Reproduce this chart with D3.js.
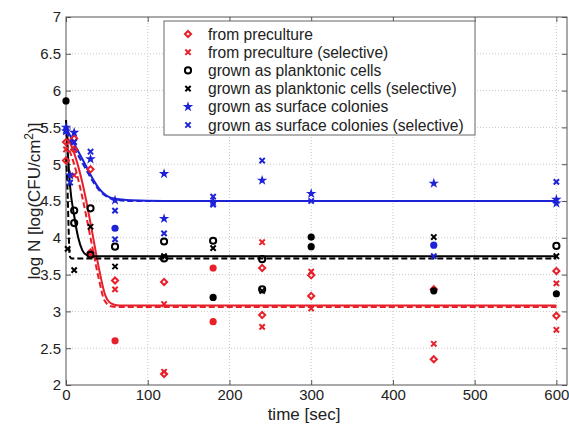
<!DOCTYPE html>
<html>
<head>
<meta charset="utf-8">
<script src="https://cdn.jsdelivr.net/npm/d3@7"></script>
<style>
  body { margin: 0; background: #fff; }
  text { font-family: "Liberation Sans", Arial, Helvetica, sans-serif; }
</style>
</head>
<body>
<div id="chart"></div>
<script>
// tick labels
const xTicks = [0, 100, 200, 300, 400, 500, 600];
const yTicks = [2, 2.5, 3, 3.5, 4, 4.5, 5, 5.5, 6, 6.5, 7];

const legendLabels = [
  "from preculture",
  "from preculture (selective)",
  "grown as planktonic cells",
  "grown as planktonic cells (selective)",
  "grown as surface colonies",
  "grown as surface colonies (selective)"
];

// measured points [time, logN]
const preculture = [[0, 5.3], [0, 5.05], [10, 5.35], [10, 5.2], [30, 4.93], [30, 3.8], [60, 3.42],
  [120, 3.4], [120, 2.15], [240, 3.59], [240, 2.95], [300, 3.49], [300, 3.21], [450, 3.3], [450, 2.35],
  [600, 3.55], [600, 2.94]];
const precultureRep = [[60, 2.6], [180, 3.59], [180, 2.86]];
const precultureSel = [[0, 5.2], [10, 4.85], [30, 3.78], [60, 3.3], [120, 3.1], [120, 2.18], [240, 3.94],
  [240, 2.79], [300, 3.54], [300, 3.04], [450, 2.56], [600, 3.38], [600, 2.75]];

const planktonic = [[10, 4.37], [10, 4.2], [30, 4.4], [30, 3.77], [60, 3.88], [120, 3.95], [120, 3.72],
  [180, 3.96], [240, 3.71], [240, 3.3], [600, 3.89]];
const planktonicRep = [[0, 5.86], [180, 3.19], [300, 4.01], [300, 3.88], [450, 3.28], [600, 3.24]];
const planktonicSel = [[2, 3.85], [10, 3.56], [30, 4.15], [60, 3.61], [120, 3.75], [180, 3.86],
  [240, 3.28], [450, 4.01], [600, 3.75]];

const surface = [[0, 5.5], [0, 5.45], [10, 5.43], [5, 4.85], [30, 5.07], [60, 4.51], [120, 4.87],
  [120, 4.26], [180, 4.49], [240, 4.78], [300, 4.6], [450, 4.74], [600, 4.52], [600, 4.47]];
const surfaceRep = [[60, 4.13], [450, 3.9]];
const surfaceSel = [[0, 5.45], [5, 4.75], [10, 5.3], [30, 5.17], [60, 4.37], [60, 3.98], [120, 4.06],
  [180, 4.56], [180, 4.45], [240, 5.05], [300, 4.5], [450, 3.75], [600, 4.76]];

// fitted curves [time, logN]
const precultureFit = [[0, 5.4], [10, 5.15], [20, 4.75], [30, 4.2], [40, 3.6], [48, 3.22], [55, 3.11],
  [65, 3.08], [100, 3.08], [600, 3.08]];
const precultureSelFit = [[0, 5.3], [10, 5.0], [20, 4.55], [30, 4.0], [40, 3.45], [47, 3.15], [55, 3.07],
  [65, 3.06], [100, 3.06], [600, 3.06]];
const planktonicFit = [[0, 5.6], [2, 5.2], [5, 4.7], [10, 4.3], [15, 4.0], [20, 3.83], [25, 3.77],
  [35, 3.75], [100, 3.75], [600, 3.75]];
const planktonicSelFit = [[0, 5.1], [1, 4.9], [2, 4.6], [3, 4.2], [4, 3.85], [5, 3.74], [7, 3.72],
  [100, 3.72], [600, 3.72]];
const surfaceFit = [[0, 5.5], [10, 5.28], [20, 5.07], [27, 4.92], [35, 4.76], [41, 4.66], [50, 4.57],
  [60, 4.53], [80, 4.51], [120, 4.5], [600, 4.5]];
const surfaceSelFit = [[0, 5.45], [10, 5.22], [20, 5.02], [27, 4.88], [35, 4.73], [41, 4.64], [50, 4.56],
  [60, 4.52], [80, 4.5], [120, 4.5], [600, 4.5]];

const W = 569, H = 425;
const margin = { top: 17, right: 2, bottom: 40, left: 66 };
const width = W - margin.left - margin.right;
const height = H - margin.top - margin.bottom;

const svg = d3.select("#chart").append("svg")
  .attr("width", W)
  .attr("height", H);

const g = svg.append("g")
  .attr("transform", `translate(${margin.left},${margin.top})`);

const x = d3.scaleLinear().domain([0, 613]).range([0, width]);
const y = d3.scaleLinear().domain([2, 7]).range([height, 0]);

// grid
g.append("g").selectAll("line").data(xTicks.slice(1)).enter().append("line")
  .attr("x1", d => x(d)).attr("x2", d => x(d))
  .attr("y1", 0).attr("y2", height)
  .attr("stroke", "#c8c8c8").attr("stroke-dasharray", "1,2");
g.append("g").selectAll("line").data(yTicks.slice(1, -1)).enter().append("line")
  .attr("x1", 0).attr("x2", width)
  .attr("y1", d => y(d)).attr("y2", d => y(d))
  .attr("stroke", "#c8c8c8").attr("stroke-dasharray", "1,2");

// axes, ticks inward on all four sides
const axisStyle = sel => {
  sel.select(".domain").remove();
  sel.selectAll("line").attr("stroke", "#555");
  sel.selectAll("text").attr("font-size", 15).attr("fill", "#222");
};
g.append("g").attr("transform", `translate(0,${height})`)
  .call(d3.axisBottom(x).tickValues(xTicks).tickSize(-5).tickPadding(4).tickFormat(d3.format("d")))
  .call(axisStyle);
g.append("g")
  .call(d3.axisLeft(y).tickValues(yTicks).tickSize(-5).tickPadding(5).tickFormat(d => d))
  .call(axisStyle);
g.append("g")
  .call(d3.axisTop(x).tickValues(xTicks).tickSize(-5).tickFormat(""))
  .call(axisStyle);
g.append("g").attr("transform", `translate(${width},0)`)
  .call(d3.axisRight(y).tickValues(yTicks).tickSize(-5).tickFormat(""))
  .call(axisStyle);

g.append("rect")
  .attr("width", width).attr("height", height)
  .attr("fill", "none").attr("stroke", "#555");

// fitted curves
const line = d3.line()
  .x(d => x(d[0]))
  .y(d => y(d[1]))
  .curve(d3.curveMonotoneX);

const red = "#e8202a", black = "#000", blue = "#1d22d6";
const fits = [
  { data: precultureFit, color: red, dash: null },
  { data: precultureSelFit, color: red, dash: "6,3" },
  { data: planktonicFit, color: black, dash: null },
  { data: planktonicSelFit, color: black, dash: "6,3" },
  { data: surfaceFit, color: blue, dash: null },
  { data: surfaceSelFit, color: blue, dash: "6,3" }
];
g.append("g").selectAll("path").data(fits).enter().append("path")
  .attr("d", d => line(d.data))
  .attr("fill", "none")
  .attr("stroke", d => d.color)
  .attr("stroke-width", 2)
  .attr("stroke-dasharray", d => d.dash);

// markers
const markers = [
  { type: d3.symbolDiamond2, size: 24, color: red, fill: false },
  { type: d3.symbolX, size: 20, color: red, fill: false },
  { type: d3.symbolCircle, size: 30, color: black, fill: false },
  { type: d3.symbolX, size: 20, color: black, fill: false },
  { type: d3.symbolStar, size: 14, color: blue, fill: true },
  { type: d3.symbolX, size: 20, color: blue, fill: true }
];
const scatter = [
  { data: preculture, m: 0 }, { data: precultureSel, m: 1 },
  { data: planktonic, m: 2 }, { data: planktonicSel, m: 3 },
  { data: surface, m: 4 }, { data: surfaceSel, m: 5 }
];

function drawMarker(sel, m) {
  sel.attr("d", d3.symbol().type(m.type).size(m.size)())
    .attr("fill", m.fill && m.type !== d3.symbolX ? m.color : "none")
    .attr("stroke", m.color)
    .attr("stroke-width", m.type === d3.symbolStar ? 1.2 : 2);
}

scatter.forEach(s => {
  g.append("g").selectAll("path").data(s.data).enter().append("path")
    .attr("transform", d => `translate(${x(d[0])},${y(d[1])})`)
    .call(drawMarker, markers[s.m]);
});

// replicate points drawn as filled dots
const reps = [
  { data: precultureRep, color: red },
  { data: planktonicRep, color: black },
  { data: surfaceRep, color: blue }
];
reps.forEach(r => {
  g.append("g").selectAll("circle").data(r.data).enter().append("circle")
    .attr("cx", d => x(d[0]))
    .attr("cy", d => y(d[1]))
    .attr("r", 3.6)
    .attr("fill", r.color);
});

// legend
const legend = svg.append("g").attr("transform", "translate(164,21)");
legend.append("rect")
  .attr("width", 311).attr("height", 114)
  .attr("fill", "#fff").attr("stroke", "#666");
const items = legend.selectAll("g.item").data(legendLabels).enter().append("g")
  .attr("class", "item")
  .attr("transform", (d, i) => `translate(0,${13 + i * 18.2})`);
items.append("path")
  .attr("transform", "translate(24,0)")
  .each(function (d, i) { d3.select(this).call(drawMarker, markers[i]); });
items.append("text")
  .attr("x", 44).attr("y", 5.5)
  .attr("font-size", 15.6).attr("fill", "#222")
  .text(d => d);

// axis titles
svg.append("text")
  .attr("x", 304).attr("y", 420)
  .attr("text-anchor", "middle")
  .attr("font-size", 17).attr("fill", "#222")
  .text("time [sec]");

const yt = svg.append("text")
  .attr("transform", "translate(40,201) rotate(-90)")
  .attr("text-anchor", "middle")
  .attr("font-size", 17).attr("fill", "#222");
yt.append("tspan").text("log N [log(CFU/cm");
yt.append("tspan").attr("dy", -7).attr("font-size", 12).text("2");
yt.append("tspan").attr("dy", 7).text(")]");
</script>
</body>
</html>
